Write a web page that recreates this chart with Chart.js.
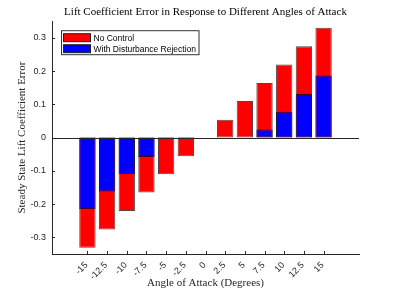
<!DOCTYPE html>
<html>
<head>
<meta charset="utf-8">
<script src="https://cdn.jsdelivr.net/npm/chart.js@4"></script>
<style>
  body { margin: 0; background: #fff; }
  canvas { display: block; }
</style>
</head>
<body>
<canvas id="graficoErro" width="397" height="297"></canvas>
<script>
const angulos = [-15, -12.5, -10, -7.5, -5, -2.5, 0, 2.5, 5, 7.5, 10, 12.5, 15];
const semControle = [-0.331, -0.276, -0.221, -0.165, -0.110, -0.056, 0, 0.054, 0.110, 0.164, 0.220, 0.275, 0.330];
const comRejeicao = [-0.215, -0.162, -0.110, -0.058, -0.005, -0.001, 0, 0, 0, 0.024, 0.078, 0.131, 0.187];
const yTicks = [-0.3, -0.2, -0.1, 0, 0.1, 0.2, 0.3];
const legendas = ['No Control', 'With Disturbance Rejection'];

const corEixo = '#262626';
const fonteSerif = "'Liberation Serif', 'Times New Roman', serif";
const fonteSans = "'Liberation Sans', Arial, sans-serif";

function pontos(valores) {
    return angulos.map((a, i) => ({ x: a, y: valores[i] }));
}

// ticks para dentro, linha do zero e legenda em caixa, estilo MATLAB
const extras = {
    id: 'extras',
    afterDatasetsDraw(chart) {
        const { ctx, chartArea, scales } = chart;
        const y0 = scales.y.getPixelForValue(0);
        ctx.save();
        ctx.strokeStyle = corEixo;
        ctx.lineWidth = 1;
        ctx.beginPath();
        ctx.moveTo(chartArea.left, Math.round(y0) + 0.5);
        ctx.lineTo(chartArea.right, Math.round(y0) + 0.5);
        ctx.stroke();

        ctx.beginPath();
        angulos.forEach(a => {
            const px = Math.round(scales.x.getPixelForValue(a)) + 0.5;
            ctx.moveTo(px, chartArea.bottom);
            ctx.lineTo(px, chartArea.bottom - 3);
        });
        yTicks.forEach(v => {
            const py = Math.round(scales.y.getPixelForValue(v)) + 0.5;
            ctx.moveTo(chartArea.left, py);
            ctx.lineTo(chartArea.left + 3, py);
        });
        ctx.stroke();

        // legenda
        const cores = ['#ff0000', '#0000ff'];
        ctx.font = '8.5px ' + fonteSans;
        const larguraTexto = Math.max(...legendas.map(t => ctx.measureText(t).width));
        const bx = chartArea.left + 9.5;
        const by = chartArea.top + 9.5;
        const bw = 30 + larguraTexto + 5;
        const bh = 24;
        ctx.fillStyle = '#fff';
        ctx.fillRect(bx, by, bw, bh);
        ctx.strokeStyle = '#333';
        ctx.strokeRect(bx, by, bw, bh);
        legendas.forEach((t, i) => {
            const sy = by + 3 + i * 11;
            ctx.fillStyle = cores[i];
            ctx.fillRect(bx + 2, sy, 27, 8);
            ctx.strokeStyle = '#222';
            ctx.strokeRect(bx + 2, sy, 27, 8);
            ctx.fillStyle = '#000';
            ctx.textBaseline = 'middle';
            ctx.textAlign = 'left';
            ctx.fillText(t, bx + 32, sy + 4.5);
        });
        ctx.restore();
    }
};

const grafico = new Chart(document.getElementById('graficoErro'), {
    type: 'bar',
    data: {
        datasets: [{
            label: legendas[0],
            data: pontos(semControle),
            backgroundColor: '#ff0000',
            borderColor: 'rgba(40,0,0,0.75)',
            borderWidth: 1,
            borderSkipped: false,
            grouped: false,
            order: 1,
            categoryPercentage: 1,
            barPercentage: 0.83
        }, {
            label: legendas[1],
            data: pontos(comRejeicao),
            backgroundColor: '#0000ff',
            borderColor: 'rgba(0,0,40,0.75)',
            borderWidth: 1,
            borderSkipped: false,
            grouped: false,
            order: 0,
            categoryPercentage: 1,
            barPercentage: 0.83
        }]
    },
    options: {
        responsive: false,
        animation: false,
        layout: { padding: { left: 0, right: 38, top: 0, bottom: 0 } },
        plugins: {
            legend: { display: false },
            tooltip: { enabled: false },
            title: {
                display: true,
                fullSize: false,
                text: 'Lift Coefficient Error in Response to Different Angles of Attack',
                color: '#000',
                font: { family: fonteSerif, size: 11, weight: 'normal' },
                padding: { top: 6, bottom: 2 }
            }
        },
        scales: {
            x: {
                type: 'linear',
                min: -18,
                max: 18,
                afterBuildTicks: s => { s.ticks = angulos.map(v => ({ value: v })); },
                afterFit: s => { s.height = 43; },
                grid: { display: false, drawTicks: false },
                border: { display: true, color: corEixo, width: 1 },
                ticks: {
                    autoSkip: false,
                    minRotation: 45,
                    maxRotation: 45,
                    padding: 6,
                    labelOffset: -1,
                    color: corEixo,
                    font: { family: fonteSans, size: 9 },
                    callback: v => String(v)
                },
                title: {
                    display: true,
                    text: 'Angle of Attack (Degrees)',
                    color: corEixo,
                    font: { family: fonteSerif, size: 11 },
                    padding: { top: 0, bottom: 7 }
                }
            },
            y: {
                min: -0.35,
                max: 0.35,
                afterBuildTicks: s => { s.ticks = yTicks.map(v => ({ value: v })); },
                afterFit: s => { s.width = 52; },
                grid: { display: false, drawTicks: false },
                border: { display: true, color: corEixo, width: 1 },
                ticks: {
                    padding: 6,
                    color: corEixo,
                    font: { family: fonteSans, size: 9 },
                    callback: v => String(v)
                },
                title: {
                    display: true,
                    text: 'Steady State Lift Coefficient Error',
                    color: corEixo,
                    font: { family: fonteSerif, size: 11 },
                    padding: { top: 16, bottom: 0 }
                }
            }
        }
    },
    plugins: [extras]
});
</script>
</body>
</html>
